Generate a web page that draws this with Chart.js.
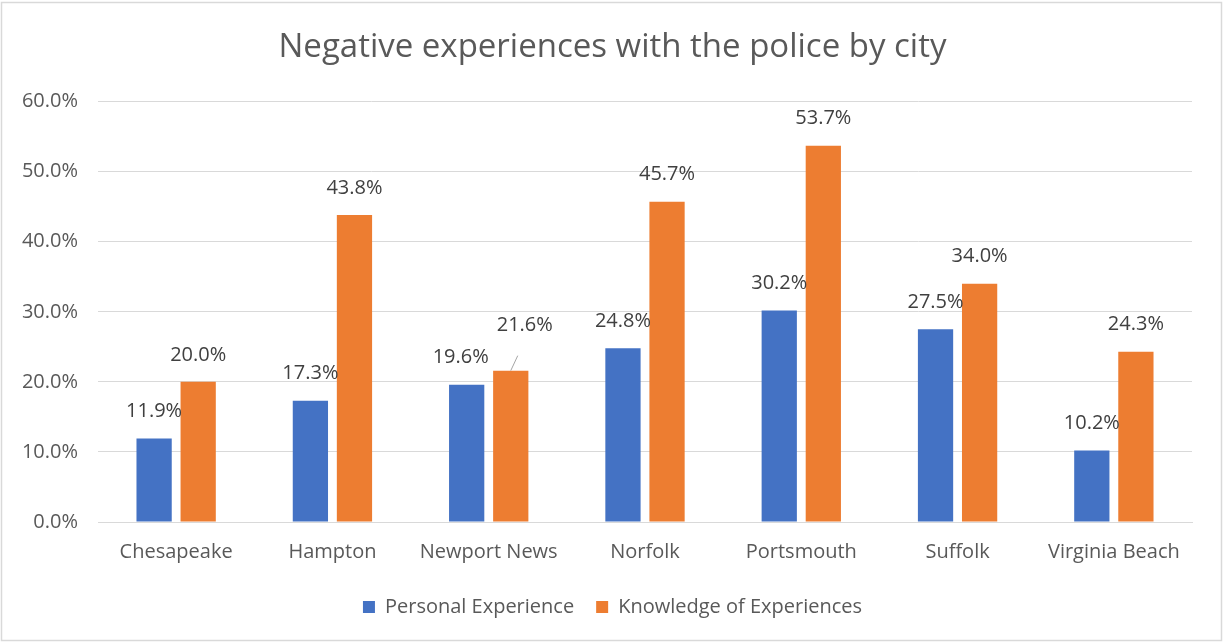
<!DOCTYPE html>
<html>
<head>
<meta charset="utf-8">
<script src="https://cdn.jsdelivr.net/npm/chart.js@4.4.0/dist/chart.umd.min.js"></script>
<style>
  html, body { margin: 0; padding: 0; background: #fff; }
  #wrap { position: relative; width: 1225px; height: 644px; }
</style>
</head>
<body>
<div id="wrap"><canvas id="chart" width="1225" height="644"></canvas></div>
<script>
(function () {
    'use strict';

    var cities = ['Chesapeake', 'Hampton', 'Newport News', 'Norfolk', 'Portsmouth', 'Suffolk', 'Virginia Beach'];
    var personal = [11.9, 17.3, 19.6, 24.8, 30.2, 27.5, 10.2];
    var knowledge = [20.0, 43.8, 21.6, 45.7, 53.7, 34.0, 24.3];
    var yTicks = [0, 10, 20, 30, 40, 50, 60];

    var fontFamily = '"Open Sans", "Noto Sans", sans-serif';
    var textColor = '#595959';
    var gridColor = '#d9d9d9';

    // label nudges where Excel moved labels apart
    var labelShift = {
        '0-2': { dx: -6, dy: 0 },
        '1-2': { dx: 14, dy: -18, leader: true }
    };

    var frame = {
        id: 'frame',
        beforeDraw: function (chart) {
            var ctx = chart.ctx;
            ctx.save();
            ctx.fillStyle = '#ffffff';
            ctx.fillRect(0, 0, chart.width, chart.height);
            ctx.strokeStyle = gridColor;
            ctx.lineWidth = 1.5;
            ctx.strokeRect(1.5, 2.5, 1220, 638);
            ctx.restore();
        }
    };

    var barLabels = {
        id: 'barLabels',
        afterDatasetsDraw: function (chart) {
            var ctx = chart.ctx;
            ctx.save();
            ctx.font = '20px ' + fontFamily;
            ctx.fillStyle = '#404040';
            ctx.textAlign = 'center';
            ctx.textBaseline = 'middle';
            chart.data.datasets.forEach(function (ds, di) {
                chart.getDatasetMeta(di).data.forEach(function (bar, i) {
                    var s = labelShift[di + '-' + i] || { dx: 0, dy: 0 };
                    var x = bar.x + s.dx;
                    var y = bar.y - 27 + s.dy;
                    if (s.leader) {
                        ctx.strokeStyle = '#a6a6a6';
                        ctx.lineWidth = 1;
                        ctx.beginPath();
                        ctx.moveTo(bar.x, bar.y);
                        ctx.lineTo(bar.x + 7, bar.y - 15);
                        ctx.stroke();
                    }
                    ctx.fillText(ds.data[i].toFixed(1) + '%', x, y);
                });
            });
            ctx.restore();
        }
    };

    new Chart(document.getElementById('chart'), {
        type: 'bar',
        data: {
            labels: cities,
            datasets: [
                {
                    label: 'Personal Experience',
                    data: personal,
                    backgroundColor: '#4472C4',
                    categoryPercentage: 0.564,
                    barPercentage: 0.8
                },
                {
                    label: 'Knowledge of Experiences',
                    data: knowledge,
                    backgroundColor: '#ED7D31',
                    categoryPercentage: 0.564,
                    barPercentage: 0.8
                }
            ]
        },
        options: {
            responsive: false,
            animation: false,
            devicePixelRatio: 1,
            layout: { padding: { left: 0, right: 0, top: 0, bottom: 17 } },
            plugins: {
                title: {
                    display: true,
                    text: 'Negative experiences with the police by city',
                    color: textColor,
                    font: { family: fontFamily, size: 33, weight: 'normal' },
                    padding: { top: 28, bottom: 34 }
                },
                legend: {
                    position: 'bottom',
                    labels: {
                        color: textColor,
                        font: { family: fontFamily, size: 20 },
                        boxWidth: 12,
                        boxHeight: 12,
                        padding: 22
                    }
                },
                tooltip: { enabled: false }
            },
            scales: {
                x: {
                    grid: { display: false, drawTicks: false },
                    border: { color: gridColor, width: 1 },
                    afterFit: function (axis) { axis.height = axis.height - 7; },
                    ticks: {
                        color: textColor,
                        font: { family: fontFamily, size: 20 },
                        padding: 18,
                        maxRotation: 0
                    }
                },
                y: {
                    min: 0,
                    max: 60,
                    afterFit: function (axis) { axis.width = 98; },
                    afterBuildTicks: function (axis) {
                        axis.ticks = yTicks.map(function (v) { return { value: v }; });
                    },
                    grid: { color: gridColor, drawTicks: false },
                    border: { display: false },
                    ticks: {
                        color: textColor,
                        font: { family: fontFamily, size: 20 },
                        padding: 20,
                        callback: function (v) { return v.toFixed(1) + '%'; }
                    }
                },
                // empty right margin so the title and legend center on the full width
                yRight: {
                    position: 'right',
                    afterFit: function (axis) { axis.width = 33; },
                    grid: { display: false, drawTicks: false },
                    border: { display: false },
                    ticks: { display: false }
                }
            }
        },
        plugins: [frame, barLabels]
    });
})();
</script>
</body>
</html>
